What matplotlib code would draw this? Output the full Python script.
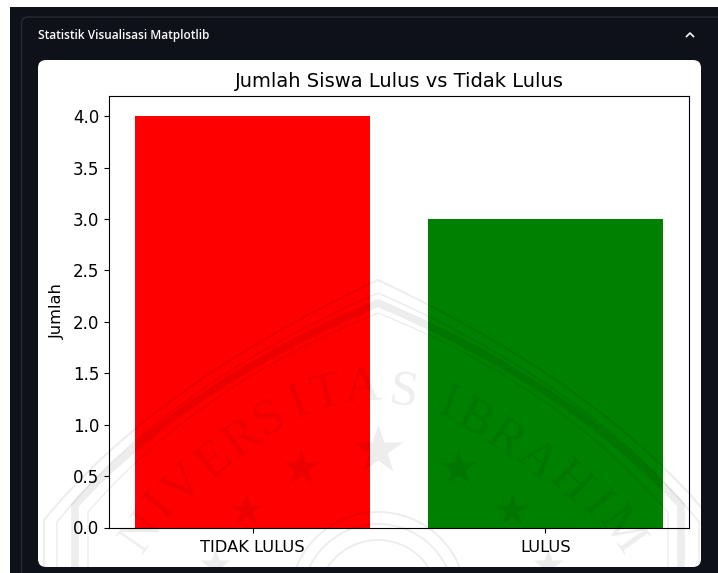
import matplotlib
matplotlib.use("Agg")
import matplotlib.pyplot as plt
from matplotlib.patches import FancyBboxPatch, Rectangle, Circle, PathPatch
from matplotlib.path import Path

W, H = 718, 573
categories = ["TIDAK LULUS", "LULUS"]
counts = [4, 3]
bar_colors = ["red", "green"]
y_ticks = [0.0, 0.5, 1.0, 1.5, 2.0, 2.5, 3.0, 3.5, 4.0]

title = "Jumlah Siswa Lulus vs Tidak Lulus"
y_label = "Jumlah"
header = "Statistik Visualisasi Matplotlib"

wm_letters = [("N", 142, 533, 55), ("I", 160, 506, 50), ("V", 184, 485, 45), ("E", 215, 461, 40),
              ("R", 243, 439, 36), ("S", 270, 418, 30), ("I", 298, 403, 22), ("T", 326, 394, 14),
              ("A", 362, 388, 4), ("S", 404, 392, -8), ("I", 447, 404, -20), ("B", 474, 420, -28),
              ("R", 505, 440, -35), ("A", 537, 461, -40), ("H", 569, 482, -45), ("I", 596, 505, -50),
              ("M", 621, 531, -55)]
wm_stars = [(378, 450, 30), (301, 468, 22), (458, 468, 22), (246, 510, 20), (512, 510, 20),
            (215, 565, 18), (548, 565, 18)]
wm_bands = [(44, 520, 280, 1.5), (57, 522, 293, 1.2), (75, 505, 303, 5.5), (88, 512, 313, 1.0)]

fig = plt.figure(figsize=(W / 100, H / 100), dpi=100, facecolor="white")

bg = fig.add_axes([0, 0, 1, 1], zorder=0)
bg.set_xlim(0, W); bg.set_ylim(H, 0); bg.axis("off")
bg.add_patch(Rectangle((10, 7), W - 10, H - 7, fc="#0e1117", ec="none"))
bg.add_patch(FancyBboxPatch((21.5, 17), W, H, boxstyle="round,pad=0,rounding_size=6",
                            fc="#0e1117", ec="#262a31", lw=1))
bg.add_patch(FancyBboxPatch((38, 60), 663, 507, boxstyle="round,pad=0,rounding_size=8",
                            fc="white", ec="none"))
bg.text(38, 35, header, color="#fafafa", fontsize=8.6, family="Open Sans",
        weight="semibold", va="center", ha="left")
bg.plot([686.5, 690, 693.5], [36.5, 33, 36.5], color="#fafafa", lw=1.2)

ax = fig.add_axes([109 / W, 1 - 527.5 / H, 580 / W, 432 / H], zorder=1)
ax.bar(categories, counts, color=bar_colors)
ax.set_ylim(0, 4.2)
ax.set_yticks(y_ticks)
ax.tick_params(axis="y", labelsize=12)
ax.tick_params(axis="x", labelsize=11.7, pad=5.5)
ax.set_ylabel(y_label, fontsize=11.7, labelpad=5.5)
ax.set_title(title, fontsize=14, pad=6)

wm = fig.add_axes([0, 0, 1, 1], zorder=2)
wm.set_xlim(0, W); wm.set_ylim(H, 0); wm.axis("off"); wm.patch.set_alpha(0)
clip = Rectangle((38, 60), 663, 507, transform=wm.transData)
ink = dict(color="black", alpha=0.07)
arts = []
codes = [Path.MOVETO, Path.LINETO, Path.CURVE3, Path.CURVE3, Path.CURVE3, Path.CURVE3, Path.LINETO]
for x0, y0, top, lw in wm_bands:
    verts = [(x0, 580), (x0, y0), (x0 + 110, 385), (378, top),
             (756 - x0 - 110, 385), (756 - x0, y0), (756 - x0, 580)]
    p = PathPatch(Path(verts, codes), fc="none", ec="black", alpha=0.07, lw=lw)
    wm.add_patch(p); arts.append(p)
for c, x, y, r in wm_letters:
    arts.append(wm.text(x, y, c, fontsize=37, family="Liberation Serif", rotation=r,
                        ha="center", va="center", **ink))
for x, y, s in wm_stars:
    arts += wm.plot([x], [y], marker="*", ms=s * 1.25, mec="none", ls="none", **ink)
for r in (88, 76, 60):
    p = Circle((378, 600), r, fc="none", ec="black", alpha=0.07, lw=1.4)
    wm.add_patch(p); arts.append(p)
for a in arts:
    a.set_clip_path(clip)

fig.savefig("out.png", dpi=100, facecolor=fig.get_facecolor())
